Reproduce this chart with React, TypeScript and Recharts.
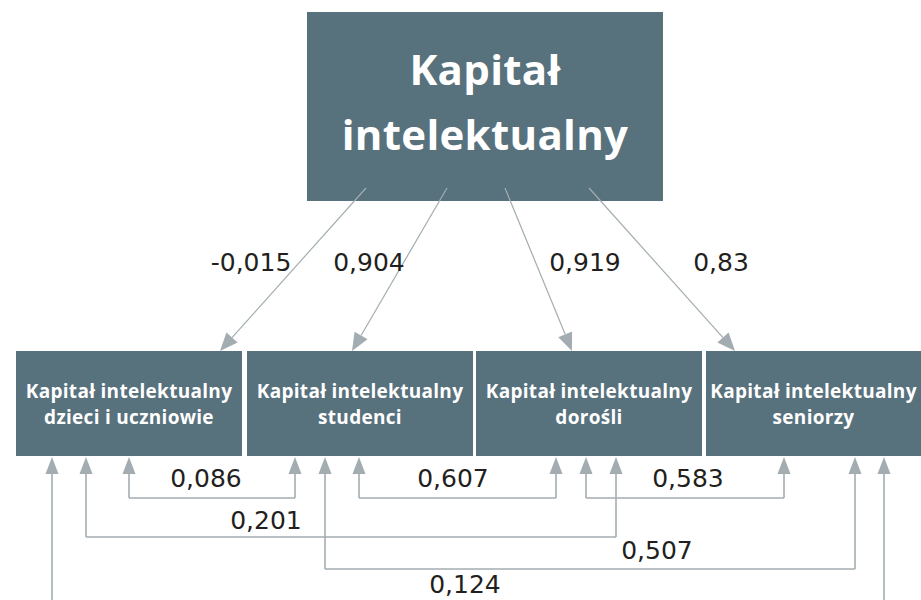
import React from 'react';
import { ScatterChart, Scatter, XAxis, YAxis, ReferenceArea, ReferenceLine } from 'recharts';

// model content
const ROOT_LINES = ['Kapitał', 'intelektualny'];
const GROUP_PREFIX = 'Kapitał intelektualny';
const GROUPS = ['dzieci i uczniowie', 'studenci', 'dorośli', 'seniorzy'];
const LOADINGS = [-0.015, 0.904, 0.919, 0.83];
const CORR_PAIRS: [number, number][] = [[0, 1], [1, 2], [2, 3], [0, 2], [1, 3], [0, 3]];
const CORR_VALUES = [0.086, 0.607, 0.583, 0.201, 0.507, 0.124];

// layout (diagram units == pixels)
const W = 921;
const H = 600;
const TOP_BOX = { x1: 307, x2: 663, y1: 12, y2: 201 };
const BOX_X: [number, number][] = [[16, 242], [247, 473], [476, 702], [706, 921]];
const BOX_Y: [number, number] = [351, 456];
const LOAD_FROM_X = [366, 447, 505, 589];
const LOAD_FROM_Y = 188;
const LOAD_TO_X = [220, 352, 572, 735];
const LOAD_LABEL: [number, number][] = [[251, 262], [369, 262], [585, 262], [721, 262]];
const CORR_X: [number, number][] = [[129, 295], [359, 556], [586, 784], [86, 616], [325, 855], [52, 884]];
const CORR_LEVEL = [498, 498, 498, 537, 569, 615];
const CORR_LABEL: [number, number][] = [[206, 478], [453, 478], [688, 478], [266, 520], [657, 550], [465, 584]];

const BOX_FILL = '#57717d';
const LINE = '#a3adb1';
const NUM_FONT = '"DejaVu Sans", sans-serif';
const BOX_FONT = '"Open Sans", sans-serif';

const fmt = (v: number) => String(v).replace('.', ',');

const arrowShape = (len: number, half: number, width: number) => (p: any) => {
  const { x1, y1, x2, y2 } = p;
  const dx = x2 - x1;
  const dy = y2 - y1;
  const d = Math.hypot(dx, dy) || 1;
  const ux = dx / d;
  const uy = dy / d;
  const bx = x2 - ux * len;
  const by = y2 - uy * len;
  const pts = `${x2},${y2} ${bx - uy * half},${by + ux * half} ${bx + uy * half},${by - ux * half}`;
  return (
    <g>
      <line x1={x1} y1={y1} x2={bx} y2={by} stroke={LINE} strokeWidth={width} />
      <polygon points={pts} fill={LINE} />
    </g>
  );
};

const topArrow = arrowShape(18, 7.5, 1.2);
const bottomArrow = arrowShape(17, 6.5, 1.6);

const boxLabel = (lines: string[], size: number, gap: number, spacing: number, shift: number) => (props: any) => {
  const vb = props.viewBox || {};
  const cx = vb.x + vb.width / 2;
  const cy = vb.y + vb.height / 2 + shift;
  const start = cy - ((lines.length - 1) * gap) / 2;
  return (
    <text
      textAnchor="middle"
      fill="#ffffff"
      fontFamily={BOX_FONT}
      fontWeight={700}
      fontSize={size}
      letterSpacing={spacing}
    >
      {lines.map((l, i) => (
        <tspan key={i} x={cx} y={start + i * gap} dy="0.36em">
          {l}
        </tspan>
      ))}
    </text>
  );
};

const labelData = [
  ...LOADINGS.map((v, i) => ({ x: LOAD_LABEL[i][0], y: LOAD_LABEL[i][1], label: fmt(v) })),
  ...CORR_VALUES.map((v, i) => ({ x: CORR_LABEL[i][0], y: CORR_LABEL[i][1], label: fmt(v) })),
];

const NumberLabel = (p: any) => (
  <text
    x={p.cx}
    y={p.cy}
    dy="0.36em"
    textAnchor="middle"
    fill="#231f20"
    fontFamily={NUM_FONT}
    fontSize={25}
  >
    {p.payload.label}
  </text>
);

export default function App() {
  return (
    <div style={{ position: 'absolute', left: 0, top: 0, background: '#fff' }}>
      <ScatterChart width={W} height={H} margin={{ top: 0, right: 0, bottom: 0, left: 0 }}>
        <XAxis type="number" dataKey="x" domain={[0, W]} hide allowDataOverflow />
        <YAxis type="number" dataKey="y" domain={[0, H]} reversed hide allowDataOverflow />

        <ReferenceArea
          x1={TOP_BOX.x1}
          x2={TOP_BOX.x2}
          y1={TOP_BOX.y1}
          y2={TOP_BOX.y2}
          fill={BOX_FILL}
          fillOpacity={1}
          stroke="none"
          label={boxLabel(ROOT_LINES, 42, 65, 0.3, -4)}
        />
        {GROUPS.map((g, i) => (
          <ReferenceArea
            key={g}
            x1={BOX_X[i][0]}
            x2={BOX_X[i][1]}
            y1={BOX_Y[0]}
            y2={BOX_Y[1]}
            fill={BOX_FILL}
            fillOpacity={1}
            stroke="none"
            label={boxLabel([GROUP_PREFIX, g], 19, 26, 0.3, 1)}
          />
        ))}

        {LOADINGS.map((v, i) => (
          <ReferenceLine
            key={`load-${i}`}
            segment={[
              { x: LOAD_FROM_X[i], y: LOAD_FROM_Y },
              { x: LOAD_TO_X[i], y: BOX_Y[0] },
            ]}
            shape={topArrow}
          />
        ))}

        {CORR_PAIRS.map(([a, b], i) => (
          <React.Fragment key={`corr-${a}-${b}`}>
            <ReferenceLine
              ifOverflow="visible"
              segment={[
                { x: CORR_X[i][0], y: CORR_LEVEL[i] },
                { x: CORR_X[i][1], y: CORR_LEVEL[i] },
              ]}
              stroke={LINE}
              strokeWidth={1.6}
            />
            <ReferenceLine
              ifOverflow="visible"
              segment={[
                { x: CORR_X[i][0], y: CORR_LEVEL[i] },
                { x: CORR_X[i][0], y: BOX_Y[1] + 1 },
              ]}
              shape={bottomArrow}
            />
            <ReferenceLine
              ifOverflow="visible"
              segment={[
                { x: CORR_X[i][1], y: CORR_LEVEL[i] },
                { x: CORR_X[i][1], y: BOX_Y[1] + 1 },
              ]}
              shape={bottomArrow}
            />
          </React.Fragment>
        ))}

        <Scatter data={labelData} shape={NumberLabel} isAnimationActive={false} />
      </ScatterChart>
    </div>
  );
}
